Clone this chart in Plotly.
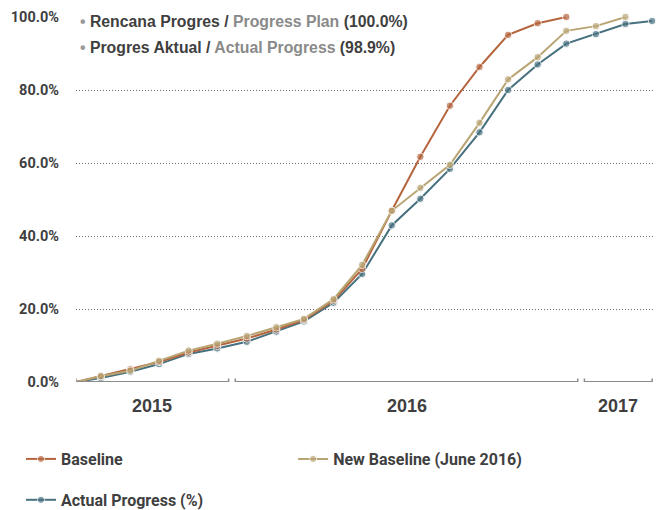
import pandas as pd
import plotly.graph_objects as go

# ---- data ----
dates = ["2015-07-20", "2015-08-15", "2015-09-15", "2015-10-15", "2015-11-15", "2015-12-15",
         "2016-01-15", "2016-02-15", "2016-03-15", "2016-04-15", "2016-05-15", "2016-06-15",
         "2016-07-15", "2016-08-15", "2016-09-15", "2016-10-15", "2016-11-15", "2016-12-15",
         "2017-01-15", "2017-02-15", "2017-03-15"]
baseline = [0, 1.6, 3.5, 5.5, 8.1, 9.9, 11.9, 14.4, 17.0, 22.3, 31.0, 46.9,
            61.7, 75.7, 86.3, 95.1, 98.3, 100.0]
new_baseline = [0, 1.6, 3.1, 5.8, 8.6, 10.5, 12.6, 15.0, 17.3, 22.7, 32.1, 46.9,
                53.2, 59.5, 71.0, 82.9, 89.0, 96.2, 97.5, 100.0]
actual = [0, 1.1, 2.8, 4.9, 7.7, 9.2, 11.0, 13.8, 16.6, 21.7, 29.6, 42.9,
          50.2, 58.4, 68.4, 80.0, 87.0, 92.7, 95.3, 98.1, 98.9]
years = [2015, 2016, 2017]
y_ticks = [0, 20, 40, 60, 80, 100]
y_labels = ["0.0%", "20.0%", "40.0%", "60.0%", "80.0%", "100.0%"]
plan_pct = 100.0
actual_pct = 98.9

# ---- styles ----
C_BASE = "#B5653D"
C_NEW = "#B9A473"
C_ACT = "#47707F"
DARK = "#3f3f3f"
GREY = "#8a8a8a"
ROBOTO = "Roboto, Liberation Sans, Arial, sans-serif"
SANS = "Liberation Sans, Arial, sans-serif"

fig = go.Figure()


def add_series(name, vals, color, legend):
    sizes = [0] + [7.5] * (len(vals) - 1)
    fig.add_trace(go.Scatter(
        x=dates[:len(vals)], y=vals, name=name, mode="lines+markers",
        line=dict(color=color, width=2),
        marker=dict(color=color, size=sizes),
        cliponaxis=False, legend=legend,
    ))


add_series("Actual Progress (%)", actual, C_ACT, "legend3")
add_series("Baseline", baseline, C_BASE, "legend")
add_series("New Baseline (June 2016)", new_baseline, C_NEW, "legend2")

# ---- year brackets below the plot ----
d = pd.to_datetime(dates)
shapes = []
annotations = []
for yr in years:
    lo = max(d[0], pd.Timestamp(f"{yr}-01-01") + pd.Timedelta(days=2))
    hi = min(d[-1], pd.Timestamp(f"{yr + 1}-01-01") - pd.Timedelta(days=5))
    line = dict(color="#8c8c8c", width=2)
    shapes.append(dict(type="line", xref="x", yref="y", x0=lo, x1=hi, y0=0, y1=0,
                       line=line, layer="above"))
    for xx in (lo, hi):
        shapes.append(dict(type="line", xref="x", yref="y", x0=xx, x1=xx,
                           ysizemode="pixel", yanchor=0, y0=-3.5, y1=3.5,
                           line=dict(color="#8c8c8c", width=1.5), layer="above"))
    annotations.append(dict(x=lo + (hi - lo) / 2, y=0, xref="x", yref="y",
                            text=f"<b>{yr}</b>", showarrow=False, yanchor="top",
                            yshift=-12, font=dict(family=SANS, size=18, color=DARK)))

# ---- header notes ----
notes = [
    (f"<span style='color:#9a9a9a'>•</span> Rencana Progres / "
     f"<span style='color:{GREY}'>Progress Plan</span> ({plan_pct:.1f}%)", -4),
    (f"<span style='color:#9a9a9a'>•</span> Progres Aktual / "
     f"<span style='color:{GREY}'>Actual Progress</span> ({actual_pct:.1f}%)", -30),
]
for txt, shift in notes:
    annotations.append(dict(x=0, y=1, xref="paper", yref="paper", xanchor="left",
                            yanchor="middle", yshift=shift, showarrow=False,
                            text="<b>" + txt + "</b>\u00a0\u00a0", bgcolor="white",
                            borderpad=3, font=dict(family=SANS, size=15.8, color=DARK)))

leg_font = dict(family=ROBOTO, size=16, color=DARK, weight="bold")
leg_common = dict(orientation="h", xanchor="left", yanchor="middle",
                  bgcolor="rgba(0,0,0,0)", font=leg_font)

fig.update_layout(
    width=668, height=510,
    margin=dict(l=76, r=13, t=17, b=128, autoexpand=False),
    plot_bgcolor="white", paper_bgcolor="white",
    showlegend=True,
    legend=dict(x=-0.095, y=-0.211, **leg_common),
    legend2=dict(x=0.375, y=-0.211, **leg_common),
    legend3=dict(x=-0.095, y=-0.323, **leg_common),
    xaxis=dict(type="date", range=["2015-07-20", "2017-03-18"], visible=False),
    yaxis=dict(range=[0, 100], tickvals=y_ticks, ticktext=y_labels,
               showgrid=True, gridcolor="#6f6f6f", griddash="1px,2px", gridwidth=1,
               zeroline=True, zerolinecolor="white", zerolinewidth=2,
               showline=False, ticks="", ticklabelstandoff=16,
               tickfont=dict(family=ROBOTO, size=14.5, color=DARK, weight="bold")),
    shapes=shapes,
    annotations=annotations,
)

fig.write_html("out.html")
